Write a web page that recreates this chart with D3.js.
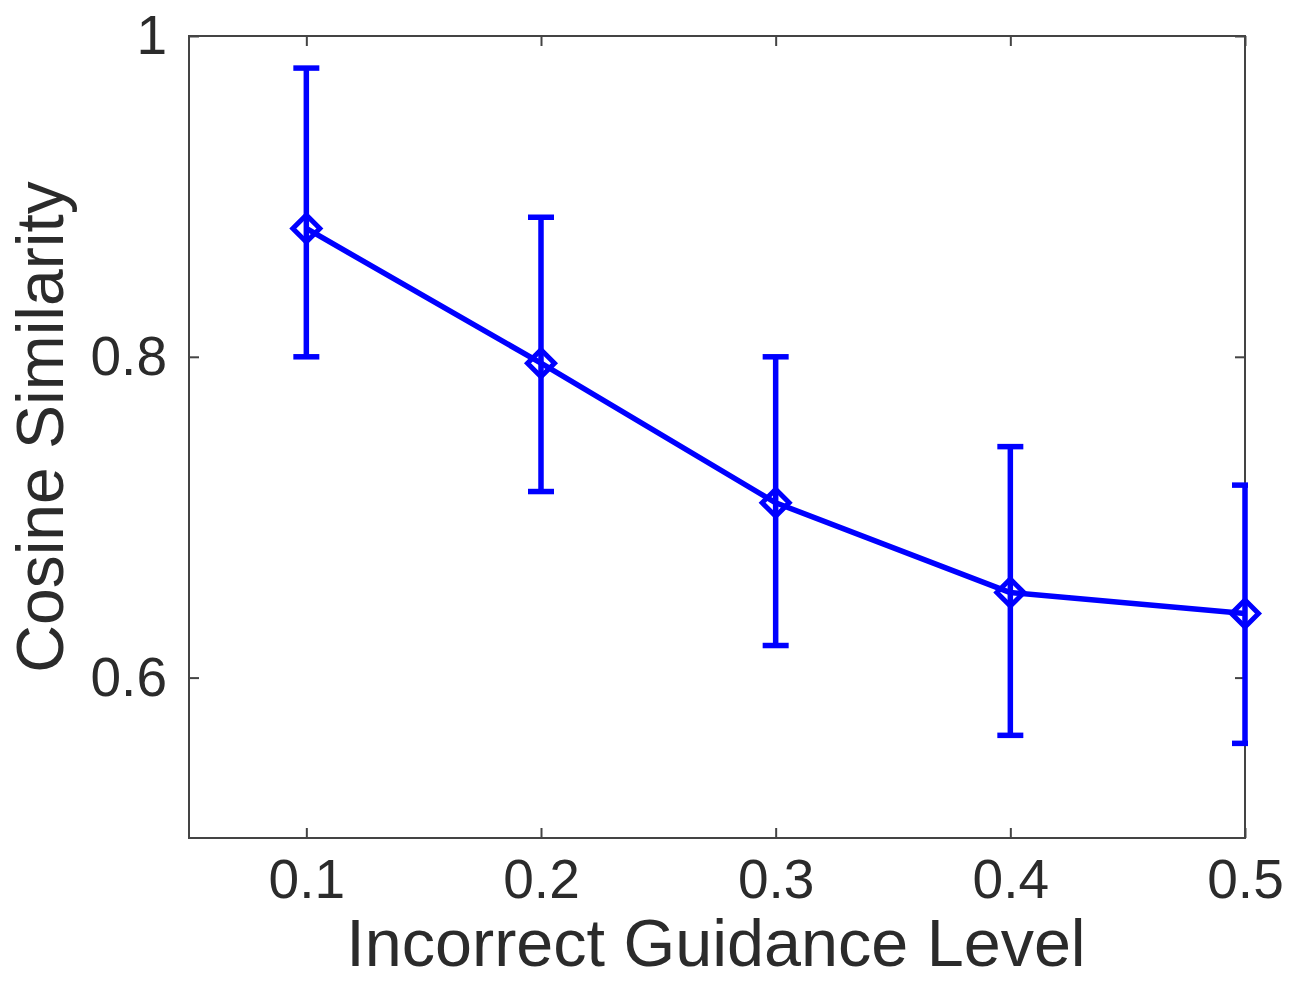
<!DOCTYPE html>
<html>
<head>
<meta charset="utf-8">
<script src="https://cdn.jsdelivr.net/npm/d3@7"></script>
<style>
  html, body { margin: 0; padding: 0; background: #fff; }
  svg { display: block; }
  text { font-family: "Liberation Sans", Arial, Helvetica, sans-serif; fill: #2b2b2b; }
</style>
</head>
<body>
<svg id="chart" width="1306" height="981"></svg>
<script>
// Cosine similarity versus incorrect guidance level (mean with error range)
const levels   = [0.1, 0.2, 0.3, 0.4, 0.5];
const meanSim  = [0.880, 0.796, 0.709, 0.653, 0.640];
const lowerSim = [0.800, 0.716, 0.620, 0.564, 0.559];
const upperSim = [0.980, 0.887, 0.800, 0.744, 0.720];

const xTicks = [0.1, 0.2, 0.3, 0.4, 0.5];
const yTicks = [0.6, 0.8, 1];
const xTitle = "Incorrect Guidance Level";
const yTitle = "Cosine Similarity";

const svg = d3.select("#chart");
const plot = { left: 189, right: 1245, top: 36, bottom: 838 };

const x = d3.scaleLinear().domain([0.05, 0.5]).range([plot.left, plot.right]);
const y = d3.scaleLinear().domain([0.5, 1]).range([plot.bottom, plot.top]);

const axisColor = "#444444";
const tickFont = 55;

function styleAxis(g, showText) {
  g.select(".domain").remove();
  g.selectAll(".tick line").attr("stroke", axisColor).attr("stroke-width", 2);
  g.selectAll(".tick text")
    .attr("font-size", tickFont)
    .attr("fill", "#2b2b2b")
    .style("display", showText ? null : "none");
}

// bottom / top axes
svg.append("g")
  .attr("transform", `translate(0,${plot.bottom})`)
  .call(d3.axisBottom(x).tickValues(xTicks).tickFormat(d3.format(".1f")).tickSize(-10).tickPadding(21))
  .call(g => styleAxis(g, true));
svg.append("g")
  .attr("transform", `translate(0,${plot.top})`)
  .call(d3.axisTop(x).tickValues(xTicks).tickSize(-10))
  .call(g => styleAxis(g, false));

// left / right axes
svg.append("g")
  .attr("transform", `translate(${plot.left},0)`)
  .call(d3.axisLeft(y).tickValues(yTicks).tickFormat(d => d === 1 ? "1" : d3.format(".1f")(d)).tickSize(-10).tickPadding(22))
  .call(g => styleAxis(g, true));
svg.append("g")
  .attr("transform", `translate(${plot.right},0)`)
  .call(d3.axisRight(y).tickValues(yTicks).tickSize(-10))
  .call(g => styleAxis(g, false));

// axes box
svg.append("rect")
  .attr("x", plot.left).attr("y", plot.top)
  .attr("width", plot.right - plot.left).attr("height", plot.bottom - plot.top)
  .attr("fill", "none").attr("stroke", axisColor).attr("stroke-width", 2);

// clip region for lines and error bars
svg.append("defs").append("clipPath").attr("id", "plotClip")
  .append("rect")
  .attr("x", plot.left - 3).attr("y", plot.top - 3)
  .attr("width", plot.right - plot.left + 6).attr("height", plot.bottom - plot.top + 6);

const data = levels.map((lv, i) => ({ lv, m: meanSim[i], lo: lowerSim[i], hi: upperSim[i] }));
const blue = "#0000ff";
const lw = 5.5;
const capHalf = 13;

const series = svg.append("g").attr("clip-path", "url(#plotClip)");

// connecting line
series.append("path")
  .datum(data)
  .attr("fill", "none")
  .attr("stroke", blue)
  .attr("stroke-width", lw)
  .attr("stroke-linejoin", "round")
  .attr("d", d3.line().x(d => x(d.lv)).y(d => y(d.m)));

// error bars
const eb = series.selectAll(".eb").data(data).join("g").attr("class", "eb")
  .attr("stroke", blue).attr("stroke-width", lw).attr("fill", "none");
eb.append("line")
  .attr("x1", d => x(d.lv)).attr("x2", d => x(d.lv))
  .attr("y1", d => y(d.lo)).attr("y2", d => y(d.hi));
eb.append("line")
  .attr("x1", d => x(d.lv) - capHalf).attr("x2", d => x(d.lv) + capHalf)
  .attr("y1", d => y(d.hi)).attr("y2", d => y(d.hi));
eb.append("line")
  .attr("x1", d => x(d.lv) - capHalf).attr("x2", d => x(d.lv) + capHalf)
  .attr("y1", d => y(d.lo)).attr("y2", d => y(d.lo));

// diamond markers
const dHalf = 13.5;
svg.selectAll(".marker").data(data).join("path")
  .attr("class", "marker")
  .attr("fill", "none")
  .attr("stroke", blue)
  .attr("stroke-width", 5)
  .attr("stroke-linejoin", "miter")
  .attr("d", d => {
    const cx = x(d.lv), cy = y(d.m);
    return `M${cx},${cy - dHalf}L${cx + dHalf},${cy}L${cx},${cy + dHalf}L${cx - dHalf},${cy}Z`;
  });

// axis titles
svg.append("text")
  .attr("x", 716)
  .attr("y", 966)
  .attr("text-anchor", "middle")
  .attr("font-size", 66.5)
  .text(xTitle);

svg.append("text")
  .attr("transform", `translate(63,${427}) rotate(-90)`)
  .attr("text-anchor", "middle")
  .attr("font-size", 66)
  .text(yTitle);
</script>
</body>
</html>
